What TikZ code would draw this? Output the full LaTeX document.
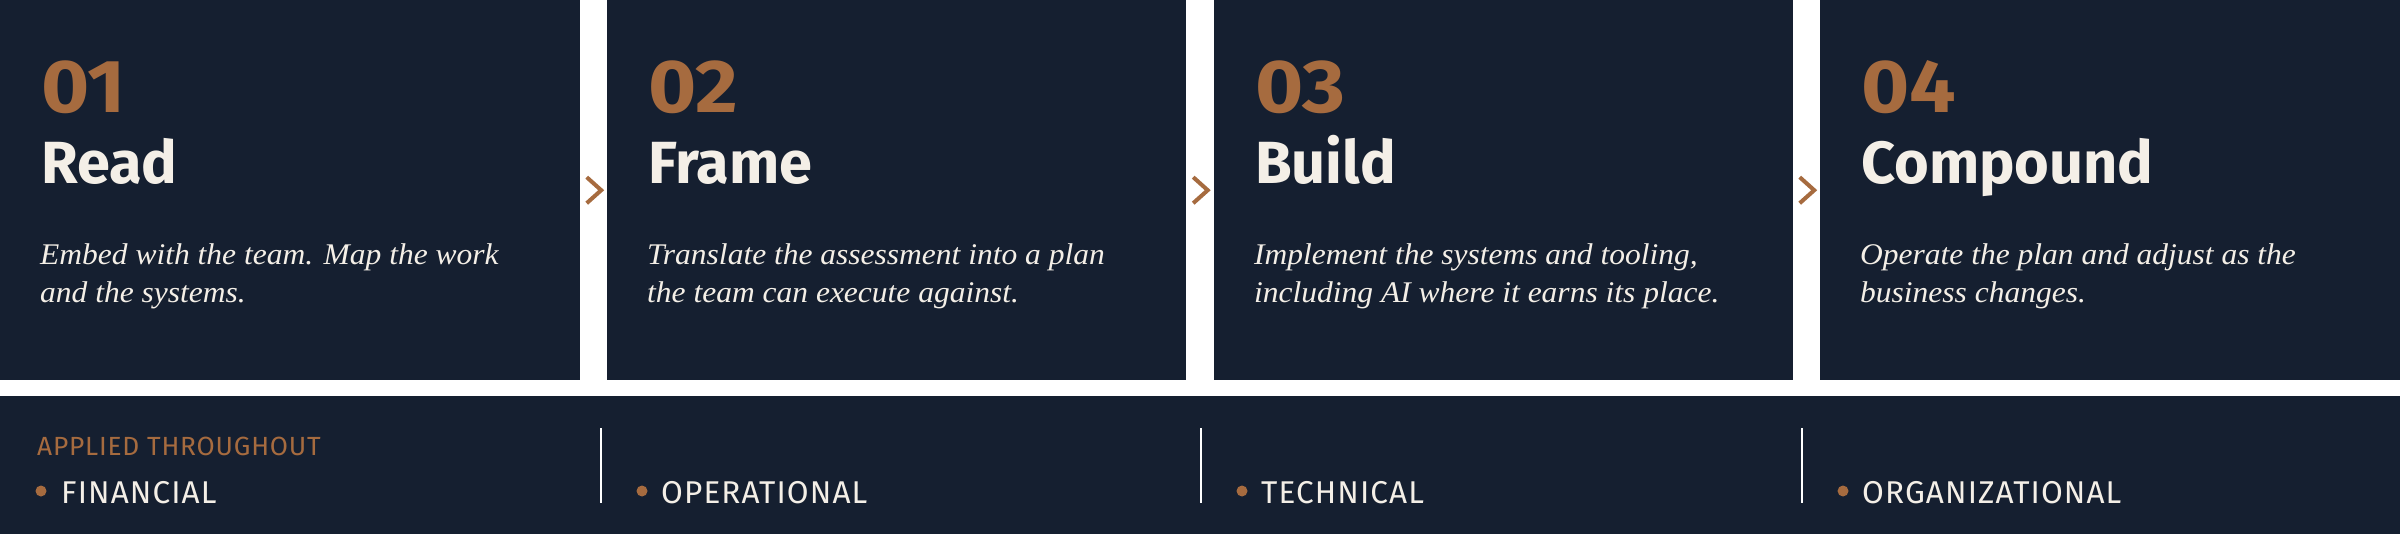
\documentclass[tikz,border=0pt]{standalone}
\usepackage{fontspec}
\usetikzlibrary{calc}
\setmainfont{Liberation Serif}
\newfontfamily\headfont{Fira Sans}
\newfontfamily\numfont{Fira Sans}[FakeStretch=1.1]
\newfontfamily\capsfont{Fira Sans}[LetterSpace=3.5]
\newfontfamily\smallcapsfont{Fira Sans}[LetterSpace=3]
\newfontfamily\bodyfont{Liberation Serif}[FakeStretch=1.05]
\definecolor{navy}{HTML}{151F30}
\definecolor{copper}{HTML}{A66B3F}
\definecolor{cream}{HTML}{F4EFE7}
\tikzset{
  card/.style={fill=navy, draw=none, inner sep=0pt, anchor=north west, minimum height=380pt},
  band/.style={fill=navy, draw=none, inner sep=0pt, anchor=north west, minimum width=2400pt, minimum height=138pt},
  num/.style={anchor=base west, inner sep=0pt, text=copper, font=\numfont\bfseries\fontsize{75}{75}\selectfont},
  ttl/.style={anchor=base west, inner sep=0pt, text=cream, font=\headfont\bfseries\fontsize{59.5}{60}\selectfont},
  desc/.style={anchor=base west, inner sep=0pt, text=cream, font=\bodyfont\itshape\fontsize{30}{38}\selectfont},
  applied/.style={anchor=base west, inner sep=0pt, text=copper, font=\smallcapsfont\fontsize{26.3}{26}\selectfont},
  item/.style={anchor=base west, inner sep=0pt, text=cream, font=\capsfont\fontsize{31.5}{30}\selectfont},
  dot/.style={circle, fill=copper, draw=none, inner sep=0pt, minimum size=11pt},
  chev/.style={draw=copper, line width=4pt, line join=miter},
  divider/.style={draw=white, line width=1.6pt}
}
\begin{document}
\begin{tikzpicture}[x=1pt, y=-1pt]
\useasboundingbox[fill=white] (0,0) rectangle (2400,534);
% cards
\node[card, minimum width=580pt] (c1) at (0,0) {};
\node[card, minimum width=579pt] (c2) at (607,0) {};
\node[card, minimum width=579pt] (c3) at (1214,0) {};
\node[card, minimum width=580pt] (c4) at (1820,0) {};
% numbers
\node[num] (n1) at (41,113) {01};
\node[num] (n2) at (648,113) {02};
\node[num] (n3) at (1255,113) {03};
\node[num] (n4) at (1861,113) {04};
% titles
\node[ttl] (t1) at (41,184) {Read};
\node[ttl] (t2) at (648,184) {Frame};
\node[ttl] (t3) at (1255,184) {Build};
\node[ttl] (t4) at (1861,184) {Compound};
% descriptions
\node[desc] (d1a) at (40,265) {Embed with the team. Map the work};
\node[desc] (d1b) at (40,303) {and the systems.};
\node[desc] (d2a) at (647,265) {Translate the assessment into a plan};
\node[desc] (d2b) at (647,303) {the team can execute against.};
\node[desc] (d3a) at (1254,265) {Implement the systems and tooling,};
\node[desc] (d3b) at (1254,303) {including AI where it earns its place.};
\node[desc] (d4a) at (1860,265) {Operate the plan and adjust as the};
\node[desc] (d4b) at (1860,303) {business changes.};
% chevrons between cards
\coordinate (g1) at ($(c1.east)!0.5!(c2.west)$);
\coordinate (g2) at ($(c2.east)!0.5!(c3.west)$);
\coordinate (g3) at ($(c3.east)!0.5!(c4.west)$);
\foreach \g in {g1,g2,g3}{
  \draw[chev] ([shift={(-7,-13)}]\g) -- ([shift={(7.5,0)}]\g) -- ([shift={(-7,13)}]\g);
}
% bottom band
\node[band] (b) at (0,396) {};
\node[applied] (ap) at (37,455) {APPLIED THROUGHOUT};
\node[dot] (b1) at (41,491) {};
\node[dot] (b2) at (642,491) {};
\node[dot] (b3) at (1242,491) {};
\node[dot] (b4) at (1843,491) {};
\node[item] (i1) at (61,503) {FINANCIAL};
\node[item] (i2) at (661,503) {OPERATIONAL};
\node[item] (i3) at (1261,503) {TECHNICAL};
\node[item] (i4) at (1862,503) {ORGANIZATIONAL};
\coordinate (v1t) at (601,428); \coordinate (v1b) at (601,503);
\coordinate (v2t) at (1201,428); \coordinate (v2b) at (1201,503);
\coordinate (v3t) at (1802,428); \coordinate (v3b) at (1802,503);
\draw[divider] (v1t) -- (v1b);
\draw[divider] (v2t) -- (v2b);
\draw[divider] (v3t) -- (v3b);
\end{tikzpicture}
\end{document}
